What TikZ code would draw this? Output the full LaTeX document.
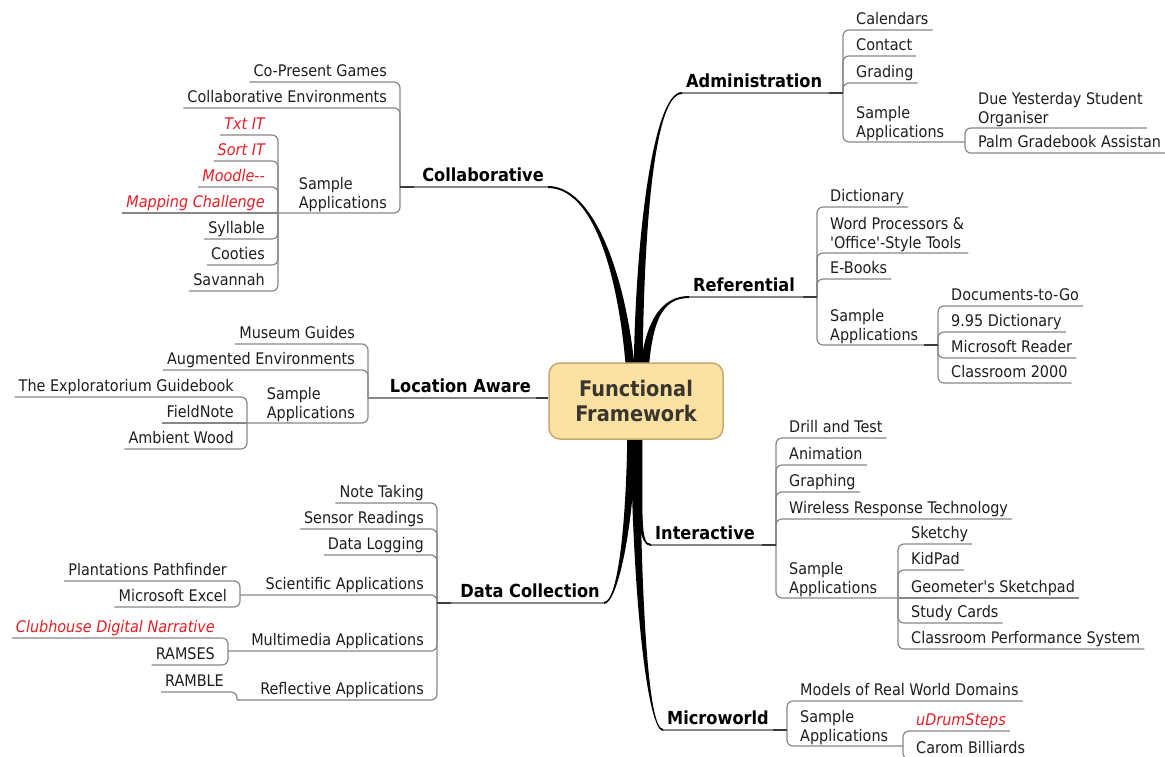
\documentclass[tikz,border=0pt]{standalone}
\usepackage{fontspec}
\IfFontExistsTF{DejaVu Sans Condensed}{\setmainfont{DejaVu Sans Condensed}}{\setmainfont{DejaVu Sans}[FakeStretch=0.9]}
\usetikzlibrary{calc}
\definecolor{linegray}{RGB}{135,135,135}
\definecolor{txt}{RGB}{30,30,30}
\definecolor{redtxt}{RGB}{228,30,38}
\definecolor{boxfill}{RGB}{251,226,162}
\definecolor{boxdraw}{RGB}{200,168,108}
\definecolor{boxtxt}{RGB}{58,54,46}
\definecolor{jointc}{RGB}{60,60,60}
\tikzset{
  leaf/.style={font=\fontsize{16}{18.5}\selectfont, text=txt, inner xsep=4pt, inner ysep=1pt, text depth=4pt},
  multi/.style={font=\fontsize{16}{18.5}\selectfont, text=txt, inner xsep=4pt, inner ysep=1pt, align=left},
  redleaf/.style={leaf, text=redtxt, font=\fontsize{16}{18.5}\selectfont\itshape},
  mainlbl/.style={font=\fontsize{18}{22}\selectfont\bfseries, text=black, inner xsep=4pt, inner ysep=1pt, text depth=4.5pt},
  conn/.style={draw=linegray, line width=1.2pt, rounded corners=6pt},
  jointseg/.style={draw=jointc, line width=1.6pt},
  branch/.style={fill=black},
  centerbox/.style={draw=boxdraw, fill=boxfill, line width=1.5pt, rounded corners=11pt,
    minimum width=174pt, minimum height=76pt, align=center,
    font=\fontsize{21.5}{25}\selectfont\bfseries, text=boxtxt}
}
\newcommand\tbranch[4]{%
  \coordinate (tbP0) at (#1);
  \coordinate (tbC1) at (#2);
  \coordinate (tbC2) at (#3);
  \coordinate (tbP3) at (#4);
  \coordinate (tbA0) at ($(tbP0)!4.5pt!90:(tbC1)$);
  \coordinate (tbB0) at ($(tbP0)!4.5pt!-90:(tbC1)$);
  \coordinate (tbA3) at ($(tbP3)!1pt!-90:(tbC2)$);
  \coordinate (tbB3) at ($(tbP3)!1pt!90:(tbC2)$);
  \fill[branch] (tbA0) .. controls ($(tbC1)+(tbA0)-(tbP0)$) and ($(tbC2)+(tbA3)-(tbP3)$) .. (tbA3)
    -- (tbB3) .. controls ($(tbC2)+(tbB3)-(tbP3)$) and ($(tbC1)+(tbB0)-(tbP0)$) .. (tbB0) -- cycle;
}
\begin{document}
\begin{tikzpicture}[x=1pt,y=-1pt]
\useasboundingbox (0,0) rectangle (1165,756);
\clip (0,0) rectangle (1165,756);

% ---------- Administration ----------
\node[mainlbl, anchor=south west] (adm) at (682,93) {Administration};
\coordinate (admS) at (843,93);
\node[leaf, anchor=south west] (cal) at (852,30) {Calendars};
\node[leaf, anchor=south west] (con) at (852,56) {Contact};
\node[leaf, anchor=south west] (gra) at (852,83) {Grading};
\node[multi, anchor=south west] (admsa) at (852,142) {Sample\\Applications};
\coordinate (admsaS) at (965,142);
\node[multi, anchor=south west] (dys) at (974,128) {Due Yesterday Student\\Organiser};
\node[leaf, anchor=south west] (pga) at (974,153) {Palm Gradebook Assistan};
\draw[conn] (adm.south west) -- (admS);
\draw[conn] (admS) |- (cal.south east);
\draw[conn] (admS) |- (con.south east);
\draw[conn] (admS) |- (gra.south east);
\draw[conn] (admS) |- (admsaS);
\draw[conn] (admsaS) |- (dys.south east);
\draw[conn] (admsaS) |- (pga.south east);
\draw[jointseg] (admS) -- ++(-14,0);

% ---------- Referential ----------
\node[mainlbl, anchor=south west] (ref) at (689,297) {Referential};
\coordinate (refS) at (817,297);
\node[leaf, anchor=south west] (dic) at (826,207) {Dictionary};
\node[multi, anchor=south west] (wp) at (826,253) {Word Processors \&\\\textquotesingle Office\textquotesingle-Style Tools};
\node[leaf, anchor=south west] (ebk) at (826,279) {E-Books};
\node[multi, anchor=south west] (refsa) at (826,345) {Sample\\Applications};
\coordinate (refsaS) at (938,345);
\node[leaf, anchor=south west] (dtg) at (947,306) {Documents-to-Go};
\node[leaf, anchor=south west] (d995) at (947,332) {9.95 Dictionary};
\node[leaf, anchor=south west] (msr) at (947,358) {Microsoft Reader};
\node[leaf, anchor=south west] (c2k) at (947,383) {Classroom 2000};
\draw[conn] (ref.south west) -- (refS);
\draw[conn] (refS) |- (dic.south east);
\draw[conn] (refS) |- (wp.south east);
\draw[conn] (refS) |- (ebk.south east);
\draw[conn] (refS) |- (refsaS);
\draw[conn] (refsaS) |- (dtg.south east);
\draw[conn] (refsaS) |- (d995.south east);
\draw[conn] (refsaS) |- (msr.south east);
\draw[conn] (refsaS) |- (c2k.south east);
\draw[jointseg] (refS) -- ++(-14,0);
\draw[jointseg] (refsaS) -- ++(-14,0);

% ---------- Interactive ----------
\node[mainlbl, anchor=south west] (int) at (651,545) {Interactive};
\coordinate (intS) at (776,545);
\node[leaf, anchor=south west] (dat) at (785,438) {Drill and Test};
\node[leaf, anchor=south west] (ani) at (785,465) {Animation};
\node[leaf, anchor=south west] (gph) at (785,492) {Graphing};
\node[leaf, anchor=south west] (wrt) at (785,519) {Wireless Response Technology};
\node[multi, anchor=south west] (intsa) at (785,598) {Sample\\Applications};
\coordinate (intsaS) at (898,598);
\node[leaf, anchor=south west] (ske) at (907,544) {Sketchy};
\node[leaf, anchor=south west] (kid) at (907,570) {KidPad};
\node[leaf, anchor=south west] (geo) at (907,598) {Geometer\textquotesingle s Sketchpad};
\node[leaf, anchor=south west] (stc) at (907,623) {Study Cards};
\node[leaf, anchor=south west] (cps) at (907,649) {Classroom Performance System};
\draw[conn] (int.south west) -- (intS);
\draw[conn] (intS) |- (dat.south east);
\draw[conn] (intS) |- (ani.south east);
\draw[conn] (intS) |- (gph.south east);
\draw[conn] (intS) |- (wrt.south east);
\draw[conn] (intS) |- (intsaS);
\draw[conn] (intsaS) |- (ske.south east);
\draw[conn] (intsaS) |- (kid.south east);
\draw[conn] (intsaS) -- (geo.south east);
\draw[conn] (intsaS) |- (stc.south east);
\draw[conn] (intsaS) |- (cps.south east);
\draw[jointseg] (intS) -- ++(-14,0);

% ---------- Microworld ----------
\node[mainlbl, anchor=south west] (mic) at (663,730) {Microworld};
\coordinate (micS) at (787,730);
\node[leaf, anchor=south west] (mrw) at (796,701) {Models of Real World Domains};
\node[multi, anchor=south west] (micsa) at (796,746) {Sample\\Applications};
\coordinate (micsaS) at (903,746);
\node[redleaf, anchor=south west] (udr) at (912,731) {uDrumSteps};
\node[leaf, anchor=south west] (car) at (912,759) {Carom Billiards};
\draw[conn] (mic.south west) -- (micS);
\draw[conn] (micS) |- (mrw.south east);
\draw[conn] (micS) |- (micsaS);
\draw[conn] (micsaS) |- (udr.south east);
\draw[conn] (micsaS) |- (car.south east);
\draw[jointseg] (micS) -- ++(-14,0);

% ---------- Collaborative ----------
\node[mainlbl, anchor=south east] (col) at (548,187) {Collaborative};
\coordinate (colS) at (400,187);
\node[leaf, anchor=south east] (cpg) at (391,82) {Co-Present Games};
\node[leaf, anchor=south east] (cen) at (391,108) {Collaborative Environments};
\node[multi, anchor=south east] (colsa) at (391,213) {Sample\\Applications};
\coordinate (colsaS) at (278,213);
\node[redleaf, anchor=south east] (txtit) at (269,135) {Txt IT};
\node[redleaf, anchor=south east] (sor) at (269,161) {Sort IT};
\node[redleaf, anchor=south east] (moo) at (269,187) {Moodle{-}{-}};
\node[redleaf, anchor=south east] (mcp) at (269,213) {Mapping Challenge};
\node[leaf, anchor=south east] (syl) at (269,239) {Syllable};
\node[leaf, anchor=south east] (coo) at (269,265) {Cooties};
\node[leaf, anchor=south east] (sav) at (269,291) {Savannah};
\draw[conn] (col.south east) -- (colS);
\draw[conn] (colS) |- (cpg.south west);
\draw[conn] (colS) |- (cen.south west);
\draw[conn] (colS) |- (colsaS);
\draw[conn] (colsaS) |- (txtit.south west);
\draw[conn] (colsaS) |- (sor.south west);
\draw[conn] (colsaS) |- (moo.south west);
\draw[conn] (colsaS) -- (mcp.south west);
\draw[conn] (colsaS) |- (syl.south west);
\draw[conn] (colsaS) |- (coo.south west);
\draw[conn] (colsaS) |- (sav.south west);
\draw[jointseg] (colS) -- ++(14,0);

% ---------- Location Aware ----------
\node[mainlbl, anchor=south east] (loc) at (535,398) {Location Aware};
\coordinate (locS) at (368,398);
\node[leaf, anchor=south east] (mus) at (359,344) {Museum Guides};
\node[leaf, anchor=south east] (aug) at (359,370) {Augmented Environments};
\node[multi, anchor=south east] (locsa) at (359,423) {Sample\\Applications};
\coordinate (locsaS) at (247,423);
\node[leaf, anchor=south east] (expl) at (238,397) {The Exploratorium Guidebook};
\node[leaf, anchor=south east] (fld) at (238,423) {FieldNote};
\node[leaf, anchor=south east] (amb) at (238,449) {Ambient Wood};
\draw[conn] (loc.south east) -- (locS);
\draw[conn] (locS) |- (mus.south west);
\draw[conn] (locS) |- (aug.south west);
\draw[conn] (locS) |- (locsaS);
\draw[conn] (locsaS) |- (expl.south west);
\draw[conn] (locsaS) -- (fld.south west);
\draw[conn] (locsaS) |- (amb.south west);
\draw[jointseg] (locS) -- ++(14,0);

% ---------- Data Collection ----------
\node[mainlbl, anchor=south east] (dcl) at (604,603) {Data Collection};
\coordinate (datS) at (437,603);
\node[leaf, anchor=south east] (ntk) at (428,503) {Note Taking};
\node[leaf, anchor=south east] (sen) at (428,529) {Sensor Readings};
\node[leaf, anchor=south east] (dlg) at (428,555) {Data Logging};
\node[leaf, anchor=south east] (sci) at (428,595) {Scientific Applications};
\node[leaf, anchor=south east] (mul) at (428,651) {Multimedia Applications};
\node[leaf, anchor=south east] (rfl) at (428,700) {Reflective Applications};
\coordinate (sciS) at (240,595);
\node[leaf, anchor=south east] (pla) at (231,581) {Plantations Pathfinder};
\node[leaf, anchor=south east] (mse) at (231,607) {Microsoft Excel};
\coordinate (mulS) at (228,651);
\node[redleaf, anchor=south east] (cdn) at (219,638) {Clubhouse Digital Narrative};
\node[leaf, anchor=south east] (ram) at (219,665) {RAMSES};
\coordinate (rflS) at (237,700);
\node[leaf, anchor=south east] (rmb) at (228,692) {RAMBLE};
\draw[conn] (dcl.south east) -- (datS);
\draw[conn] (datS) |- (ntk.south west);
\draw[conn] (datS) |- (sen.south west);
\draw[conn] (datS) |- (dlg.south west);
\draw[conn] (datS) |- (sciS);
\draw[conn] (datS) |- (mulS);
\draw[conn] (datS) |- (rflS);
\draw[conn] (sciS) |- (pla.south west);
\draw[conn] (sciS) |- (mse.south west);
\draw[conn] (mulS) |- (cdn.south west);
\draw[conn] (mulS) |- (ram.south west);
\draw[conn] (rflS) |- (rmb.south west);
\draw[jointseg] (datS) -- ++(14,0);

% ---------- thick branches ----------
\tbranch{632,395}{628,300}{600,187}{col.south east}
\tbranch{638,395}{638,250}{652,93}{adm.south west}
\tbranch{643,395}{645,320}{662,297}{ref.south west}
\tbranch{632,410}{632,520}{618,603}{dcl.south east}
\tbranch{638,410}{638,520}{640,545}{int.south west}
\tbranch{635,410}{636,600}{648,730}{mic.south west}

% ---------- centre ----------
\node[centerbox] (ff) at (636,401) {Functional\\Framework};
\draw[conn] (locS) -- (loc.south east) -- (loc.south east -| ff.west);
\draw[jointseg] (loc.south east -| ff.west) -- ++(-12,0);
\end{tikzpicture}
\end{document}
